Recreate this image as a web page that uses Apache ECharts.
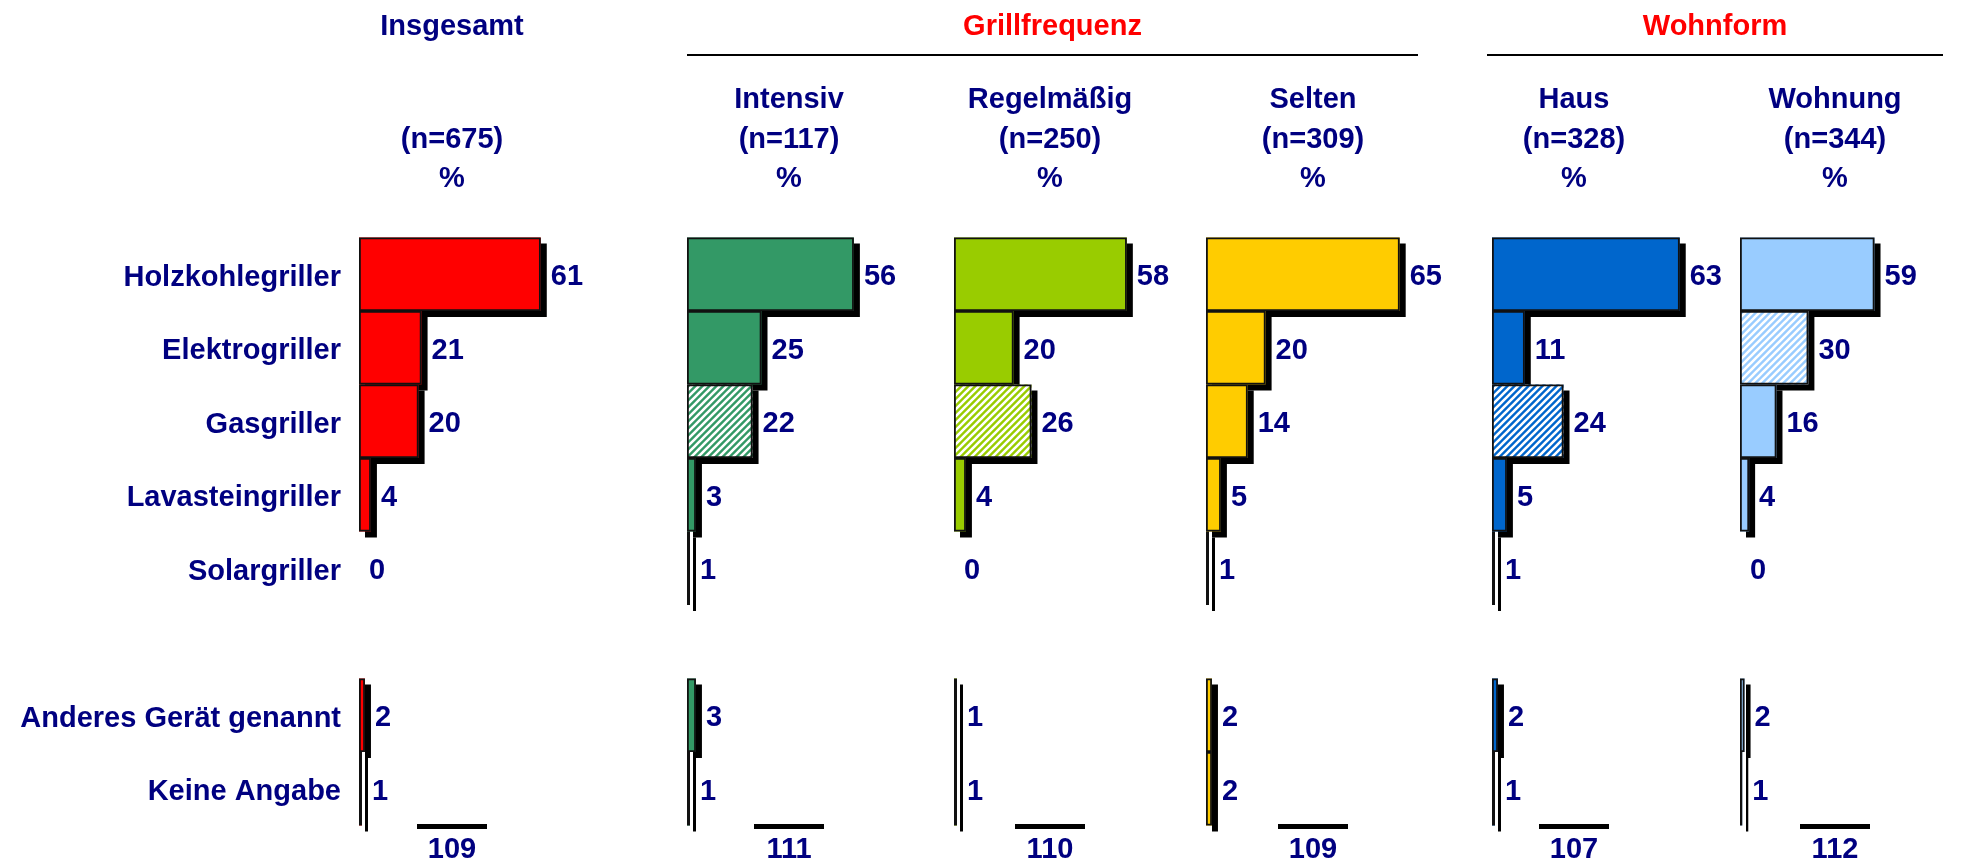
<!DOCTYPE html>
<html>
<head>
<meta charset="utf-8">
<script src="https://cdn.jsdelivr.net/npm/echarts@6/dist/echarts.min.js"></script>
<style>
  html, body { margin: 0; padding: 0; background: #fff; }
  #chart { width: 1968px; height: 862px; }
</style>
</head>
<body>
<div id="chart"></div>
<script>
// Kategorien (leerer Eintrag = Abstand zwischen den Blöcken)
var categories = ['Holzkohlegriller', 'Elektrogriller', 'Gasgriller', 'Lavasteingriller', 'Solargriller', '', 'Anderes Gerät genannt', 'Keine Angabe'];

// Spalten
var columnNames = ['Insgesamt', 'Intensiv', 'Regelmäßig', 'Selten', 'Haus', 'Wohnung'];
var sampleSizes = [675, 117, 250, 309, 328, 344];
var totals = [109, 111, 110, 109, 107, 112];

// Werte in %
var insgesamt = [61, 21, 20, 4, 0, null, 2, 1];
var intensiv = [56, 25, 22, 3, 1, null, 3, 1];
var regelmaessig = [58, 20, 26, 4, 0, null, 1, 1];
var selten = [65, 20, 14, 5, 1, null, 2, 2];
var haus = [63, 11, 24, 5, 1, null, 2, 1];
var wohnung = [59, 30, 16, 4, 0, null, 2, 1];

// schraffierte Balken (Index der Kategorie je Spalte)
var hatched = [[], [2], [2], [], [2], [1]];

// Gruppen über den Spalten
var groups = [
  { name: 'Grillfrequenz', from: 1, to: 3 },
  { name: 'Wohnform', from: 4, to: 5 }
];

var seriesValues = [insgesamt, intensiv, regelmaessig, selten, haus, wohnung];
var colors = ['#FF0000', '#339966', '#99CC00', '#FFCC00', '#0066CC', '#99CCFF'];

// Layout
var gridLeft = [359, 687, 954, 1206, 1492, 1740];
var colCenter = [452, 789, 1050, 1313, 1574, 1835];
var groupLine = [[687, 1418], [1487, 1943]];
var gridTop = 237.5, gridHeight = 588, gridWidth = 298;
var navy = '#000080';
var fontFam = '"Liberation Sans", Arial, sans-serif';
var font = 'bold 29px ' + fontFam;

//Schraffur-Muster
function makeHatch(color) {
  var s = 7;
  var c = document.createElement('canvas');
  c.width = s; c.height = s;
  var ctx = c.getContext('2d');
  ctx.fillStyle = color;
  ctx.fillRect(0, 0, s, s);
  ctx.strokeStyle = '#fff';
  ctx.lineWidth = 2.6;
  ctx.beginPath();
  ctx.moveTo(-1, s + 1); ctx.lineTo(s + 1, -1);
  ctx.moveTo(-1, 1); ctx.lineTo(1, -1);
  ctx.moveTo(s - 1, s + 1); ctx.lineTo(s + 1, s - 1);
  ctx.stroke();
  return c;
}

var chart = echarts.init(document.getElementById('chart'));

var grids = [], xAxes = [], yAxes = [], series = [];
columnNames.forEach(function (name, i) {
  grids.push({ left: gridLeft[i], top: gridTop, width: gridWidth, height: gridHeight });
  xAxes.push({ gridIndex: i, type: 'value', min: 0, max: 100, show: false });
  yAxes.push({
    gridIndex: i,
    type: 'category',
    data: categories,
    inverse: true,
    axisLine: { show: false },
    axisTick: { show: false },
    axisLabel: {
      show: i === 0,
      margin: 18,
      formatter: function (v) { return v ? '{c|' + v + '}' : ''; },
      rich: {
        c: {
          padding: [7, 0, 0, 0],
          color: navy,
          fontWeight: 'bold',
          fontSize: 29,
          fontFamily: fontFam
        }
      }
    }
  });
  var pattern = { image: makeHatch(colors[i]), repeat: 'repeat' };
  // Füllung mit Schatten
  var fillData = seriesValues[i].map(function (v, k) {
    if (v === null) return '-';
    var item = { value: v };
    if (hatched[i].indexOf(k) >= 0) item.itemStyle = { color: pattern };
    if (v === 0) item.itemStyle = { shadowColor: 'transparent' };
    return item;
  });
  // Rahmen ohne Schatten
  var borderData = seriesValues[i].map(function (v) {
    if (v === null) return '-';
    return v === 0 ? { value: v, itemStyle: { borderWidth: 0 } } : v;
  });
  series.push({
    type: 'bar',
    name: name,
    xAxisIndex: i,
    yAxisIndex: i,
    barCategoryGap: '0%',
    barGap: '-100%',
    data: fillData,
    itemStyle: {
      color: colors[i],
      borderWidth: 0,
      shadowColor: '#000',
      shadowBlur: 0,
      shadowOffsetX: 6,
      shadowOffsetY: 6
    },
    label: {
      show: true,
      position: 'right',
      distance: 10,
      offset: [0, 3],
      color: navy,
      fontWeight: 'bold',
      fontSize: 29,
      fontFamily: fontFam
    },
    emphasis: { disabled: true }
  });
  series.push({
    type: 'bar',
    name: name + '-rahmen',
    xAxisIndex: i,
    yAxisIndex: i,
    barCategoryGap: '0%',
    barGap: '-100%',
    silent: true,
    data: borderData,
    itemStyle: {
      color: 'transparent',
      borderColor: '#111',
      borderWidth: 1.8
    },
    label: { show: false },
    emphasis: { disabled: true }
  });
});

// Kopfzeilen, Gruppenlinien, Summen
var graphics = [];
function text(str, x, y, fill) {
  graphics.push({
    type: 'text',
    x: x, y: y,
    style: { text: str, font: font, fill: fill, align: 'center', verticalAlign: 'middle' }
  });
}
groups.forEach(function (g, j) {
  text(g.name, (groupLine[j][0] + groupLine[j][1]) / 2, 27, '#FF0000');
  graphics.push({
    type: 'line',
    shape: { x1: groupLine[j][0], y1: 55, x2: groupLine[j][1], y2: 55 },
    style: { stroke: '#000', lineWidth: 2 }
  });
});
columnNames.forEach(function (name, i) {
  text(name, colCenter[i], i === 0 ? 27 : 100, navy);
  text('(n=' + sampleSizes[i] + ')', colCenter[i], 140, navy);
  text('%', colCenter[i], 179, navy);
  graphics.push({
    type: 'line',
    shape: { x1: colCenter[i] - 35, y1: 826.5, x2: colCenter[i] + 35, y2: 826.5 },
    style: { stroke: '#000', lineWidth: 5 }
  });
  text(String(totals[i]), colCenter[i], 850, navy);
});

chart.setOption({
  animation: false,
  grid: grids,
  xAxis: xAxes,
  yAxis: yAxes,
  series: series,
  graphic: graphics
});
</script>
</body>
</html>
